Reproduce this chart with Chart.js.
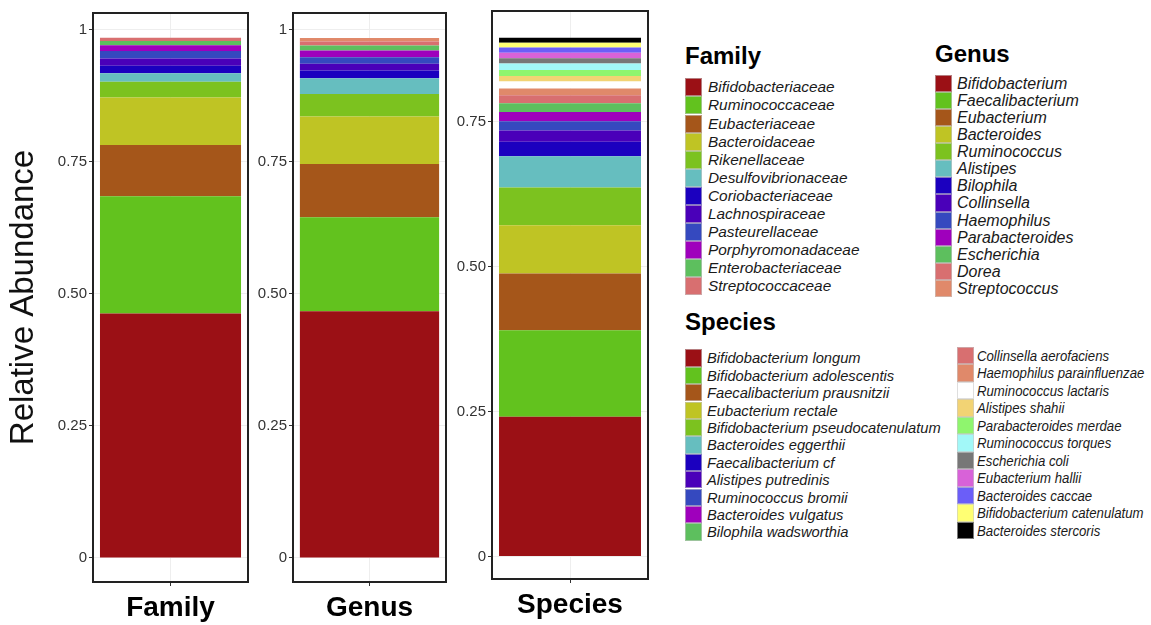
<!DOCTYPE html>
<html>
<head>
<meta charset="utf-8">
<script src="https://cdn.jsdelivr.net/npm/chart.js@4.4.1/dist/chart.umd.min.js"></script>
<style>
body{margin:0;background:#fff;width:1151px;height:625px;position:relative;overflow:hidden;font-family:"Liberation Sans",Arial,sans-serif}
canvas{position:absolute;top:0}
.ttl{position:absolute;font-weight:bold;font-size:24px;line-height:24px;color:#000}
.key{position:absolute;box-sizing:border-box;border:1px solid rgba(200,200,200,0.6)}
.lbl{position:absolute;font-style:italic;color:#1a1a1a;white-space:nowrap;transform-origin:left center}
</style>
</head>
<body>
<canvas id="familyChart" width="255" height="625" style="left:0"></canvas>
<canvas id="genusChart" width="200" height="625" style="left:255px"></canvas>
<canvas id="speciesChart" width="200" height="625" style="left:455px"></canvas>
<div id="legendBox"></div>
<script>
// tick labels
var yTickValues = [0, 0.25, 0.5, 0.75, 1];
var yTickLabels = ['0', '0.25', '0.50', '0.75', '1'];

// Family
var familyNames = ['Bifidobacteriaceae','Ruminococcaceae','Eubacteriaceae','Bacteroidaceae','Rikenellaceae',
  'Desulfovibrionaceae','Coriobacteriaceae','Lachnospiraceae','Pasteurellaceae','Porphyromonadaceae',
  'Enterobacteriaceae','Streptococcaceae'];
var familyValues = [0.463, 0.222, 0.097, 0.090, 0.030, 0.016, 0.014, 0.014, 0.014, 0.011, 0.008, 0.006];
var familyColors = ['#9B1015','#62C21E','#A5561A','#BFC424','#7CC21F','#66BEBF','#1B00BF','#4A00B9',
  '#3549BF','#9F00BC','#5DBF5E','#D86F70'];

// Genus
var genusNames = ['Bifidobacterium','Faecalibacterium','Eubacterium','Bacteroides','Ruminococcus','Alistipes',
  'Bilophila','Collinsella','Haemophilus','Parabacteroides','Escherichia','Dorea','Streptococcus'];
var genusValues = [0.467, 0.178, 0.101, 0.090, 0.0425, 0.030, 0.0145, 0.0127, 0.0127, 0.0125, 0.0095, 0.0076, 0.0065];
var genusColors = ['#9B1015','#62C21E','#A5561A','#BFC424','#7CC21F','#66BEBF','#1B00BF','#4A00B9',
  '#3549BF','#9F00BC','#5DBF5E','#D86F70','#E0896A'];

// Species
var speciesNames = ['Bifidobacterium longum','Bifidobacterium adolescentis','Faecalibacterium prausnitzii',
  'Eubacterium rectale','Bifidobacterium pseudocatenulatum','Bacteroides eggerthii','Faecalibacterium cf',
  'Alistipes putredinis','Ruminococcus bromii','Bacteroides vulgatus','Bilophila wadsworthia',
  'Collinsella aerofaciens','Haemophilus parainfluenzae','Ruminococcus lactaris','Alistipes shahii',
  'Parabacteroides merdae','Ruminococcus torques','Escherichia coli','Eubacterium hallii','Bacteroides caccae',
  'Bifidobacterium catenulatum','Bacteroides stercoris'];
var speciesValues = [0.241, 0.149, 0.098, 0.083, 0.065, 0.054, 0.025, 0.0195, 0.016, 0.016, 0.015,
  0.0138, 0.0115, 0.012, 0.0098, 0.0103, 0.011, 0.009, 0.0098, 0.009, 0.008, 0.0086];
var speciesColors = ['#9B1015','#62C21E','#A5561A','#BFC424','#7CC21F','#66BEBF','#1B00BF','#4A00B9',
  '#3549BF','#9F00BC','#5DBF5E','#D86F70','#E0896A','#FFFFFF','#F2D374','#8FF56E','#A2F8F8','#777777',
  '#D862D8','#6B5EF8','#FFFF73','#000000'];

var framePlugin = {
  id: 'frame',
  afterDraw: function(chart) {
    var a = chart.chartArea, ctx = chart.ctx;
    ctx.save();
    ctx.strokeStyle = '#222';
    ctx.lineWidth = 2;
    ctx.strokeRect(a.left, a.top, a.right - a.left, a.bottom - a.top);
    ctx.restore();
  }
};

function makePanel(id, axisLabel, names, values, colors, yMin, yMax, axisW, pad, xH, showTitle) {
  var datasets = [];
  for (var i = 0; i < names.length; i++) {
    datasets.push({
      label: names[i],
      data: [values[i]],
      backgroundColor: colors[i],
      borderWidth: 0,
      barPercentage: 0.91,
      categoryPercentage: 1
    });
  }
  return new Chart(document.getElementById(id), {
    type: 'bar',
    data: { labels: [axisLabel], datasets: datasets },
    plugins: [framePlugin],
    options: {
      responsive: false,
      animation: false,
      devicePixelRatio: 1,
      layout: { padding: pad },
      plugins: { legend: { display: false }, tooltip: { enabled: false } },
      scales: {
        x: {
          stacked: true,
          border: { display: false },
          grid: { offset: false, color: '#EEEEEE', tickColor: '#333', tickLength: 4 },
          ticks: { color: '#000', padding: 5, font: { family: 'Liberation Sans', size: 28, weight: 'bold' } },
          afterFit: function(s) { s.height = xH; }
        },
        y: {
          stacked: true,
          min: yMin,
          max: yMax,
          border: { display: false },
          grid: { color: '#EEEEEE', tickColor: '#333', tickLength: 4 },
          afterBuildTicks: function(s) {
            s.ticks = yTickValues.filter(function(v) { return v <= s.max; }).map(function(v) { return { value: v }; });
          },
          ticks: {
            color: '#333',
            padding: 2,
            font: { family: 'Liberation Sans', size: 15 },
            callback: function(v) {
              var k = yTickValues.indexOf(v);
              return k >= 0 ? yTickLabels[k] : '';
            }
          },
          title: {
            display: showTitle,
            text: 'Relative Abundance',
            color: '#111',
            padding: { top: 4, bottom: 0 },
            font: { family: 'Liberation Sans', size: 33 }
          },
          afterFit: function(s) { s.width = axisW; }
        }
      }
    }
  });
}

makePanel('familyChart', 'Family', familyNames, familyValues, familyColors,
  -0.0455, 1.032, 93, { left: 0, right: 7, top: 13, bottom: 0 }, 43, true);
makePanel('genusChart', 'Genus', genusNames, genusValues, genusColors,
  -0.0455, 1.032, 38, { left: 0, right: 9, top: 13, bottom: 0 }, 43, false);
makePanel('speciesChart', 'Species', speciesNames, speciesValues, speciesColors,
  -0.0388, 0.9405, 37, { left: 0, right: 7, top: 11, bottom: 0 }, 46, false);

// legends
var box = document.getElementById('legendBox');
function addTitle(text, x, y) {
  var d = document.createElement('div');
  d.className = 'ttl';
  d.style.left = x + 'px';
  d.style.top = y + 'px';
  d.textContent = text;
  box.appendChild(d);
}
function addRows(names, colors, from, to, x, y, pitch, kw, tx, fs, sx) {
  for (var i = from; i < to; i++) {
    var top = y + (i - from) * pitch;
    var k = document.createElement('div');
    k.className = 'key';
    k.style.left = x + 'px';
    k.style.top = top + 'px';
    k.style.width = kw + 'px';
    k.style.height = pitch + 'px';
    k.style.background = colors[i];
    box.appendChild(k);
    var t = document.createElement('div');
    t.className = 'lbl';
    t.style.left = tx + 'px';
    t.style.top = top + 'px';
    t.style.height = pitch + 'px';
    t.style.lineHeight = pitch + 'px';
    t.style.fontSize = fs + 'px';
    if (sx) t.style.transform = 'scaleX(' + sx + ')';
    t.textContent = names[i];
    box.appendChild(t);
  }
}
addTitle('Family', 685, 44);
addRows(familyNames, familyColors, 0, familyNames.length, 685, 78.3, 18.1, 17, 708, 15.4, 0);
addTitle('Genus', 935, 42);
addRows(genusNames, genusColors, 0, genusNames.length, 935, 75, 17.07, 17, 957, 16, 0);
addTitle('Species', 685, 310);
addRows(speciesNames, speciesColors, 0, 11, 685, 349.3, 17.4, 17, 707, 15, 0.98);
addRows(speciesNames, speciesColors, 11, speciesNames.length, 957, 346.7, 17.5, 16.5, 977, 15, 0.88);
</script>
</body>
</html>
